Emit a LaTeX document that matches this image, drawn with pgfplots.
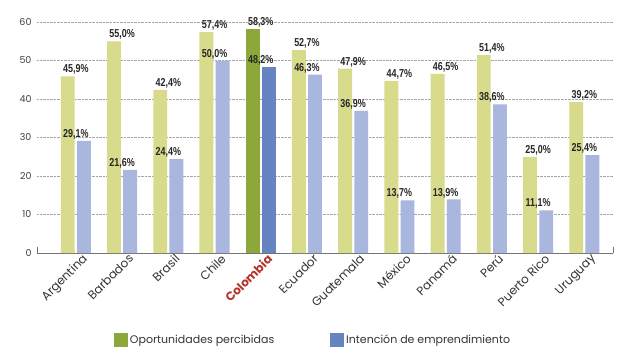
\documentclass[border=0pt]{standalone}
\usepackage{fontspec}
\setmainfont{Poppins}
\newfontfamily\valfont{Liberation Sans}[FakeStretch=0.78]
\usepackage{pgfplots}
\pgfplotsset{compat=1.18}
\definecolor{ylight}{HTML}{D9DB8C}
\definecolor{blight}{HTML}{A9B6DE}
\definecolor{ydark}{HTML}{8CA83B}
\definecolor{bdark}{HTML}{6683C2}
\definecolor{colred}{HTML}{B3342B}
\begin{document}
\begin{tikzpicture}[x=1pt,y=1pt]
\useasboundingbox (-37,-106) rectangle (587,253);
\begin{axis}[
  at={(0,0)}, anchor=south west,
  scale only axis, width=576pt, height=231pt,
  ymin=0, ymax=60, xmin=-0.84, xmax=11.62,
  ytick={0,10,...,60},
  ymajorgrids,
  grid style={densely dotted, black!35, line width=0.6pt},
  axis x line*=bottom, axis y line*=left,
  y axis line style={draw=none},
  x axis line style={black!55, line width=0.9pt},
  major tick length=0pt,
  xtick={0,...,11},
  xticklabels={Argentina,Barbados,Brasil,Chile,{\color{colred}\bfseries Colombia},Ecuador,Guatemala,México,Panamá,Perú,Puerto Rico,Uruguay},
  x tick label style={rotate=45, anchor=north east, font=\fontsize{12}{12}\selectfont, text=black!80, inner sep=1pt, yshift=-3pt, xshift=5pt},
  y tick label style={font=\fontsize{9.5}{10}\selectfont, text=black!75, xshift=-2pt},
  /pgf/number format/assume math mode=true,
  clip=false,
  bar width=0.30,
  nodes near coords={\pgfmathprintnumber[fixed,fixed zerofill,precision=1,use comma]{\pgfplotspointmeta}\%},
  every node near coord/.append style={font=\valfont\bfseries\fontsize{11.5}{12}\selectfont, text=black!85, inner sep=1.5pt},
  legend style={draw=none, fill=none, at={(0.128,-0.377)}, anchor=west, legend columns=2,
    font=\fontsize{11}{11}\selectfont, text=black!80,
    /tikz/every even column/.append style={column sep=54pt}},
  legend image code/.code={\fill[#1] (0pt,-7pt) rectangle (14pt,7pt);},
]
\addplot[ybar, fill=ylight, draw=none, bar shift=-0.175, forget plot] coordinates {
(0,45.9) (1,55.0) (2,42.4) (3,57.4) (5,52.7) (6,47.9) (7,44.7) (8,46.5) (9,51.4) (10,25.0) (11,39.2)};
\addplot[ybar, fill=blight, draw=none, bar shift=0.175, forget plot] coordinates {
(0,29.1) (1,21.6) (2,24.4) (3,50.0) (5,46.3) (6,36.9) (7,13.7) (8,13.9) (9,38.6) (10,11.1) (11,25.4)};
\addplot[ybar, fill=ydark, draw=none, bar shift=-0.175] coordinates {(4,58.3)};
\addplot[ybar, fill=bdark, draw=none, bar shift=0.175] coordinates {(4,48.2)};
\legend{Oportunidades percibidas, Intención de emprendimiento}
\draw[black!55, line width=0.9pt] (rel axis cs:0,0) -- ++(0pt,6pt);
\draw[black!55, line width=0.9pt] (rel axis cs:1,0) -- ++(0pt,6pt);
\end{axis}
\end{tikzpicture}
\end{document}
